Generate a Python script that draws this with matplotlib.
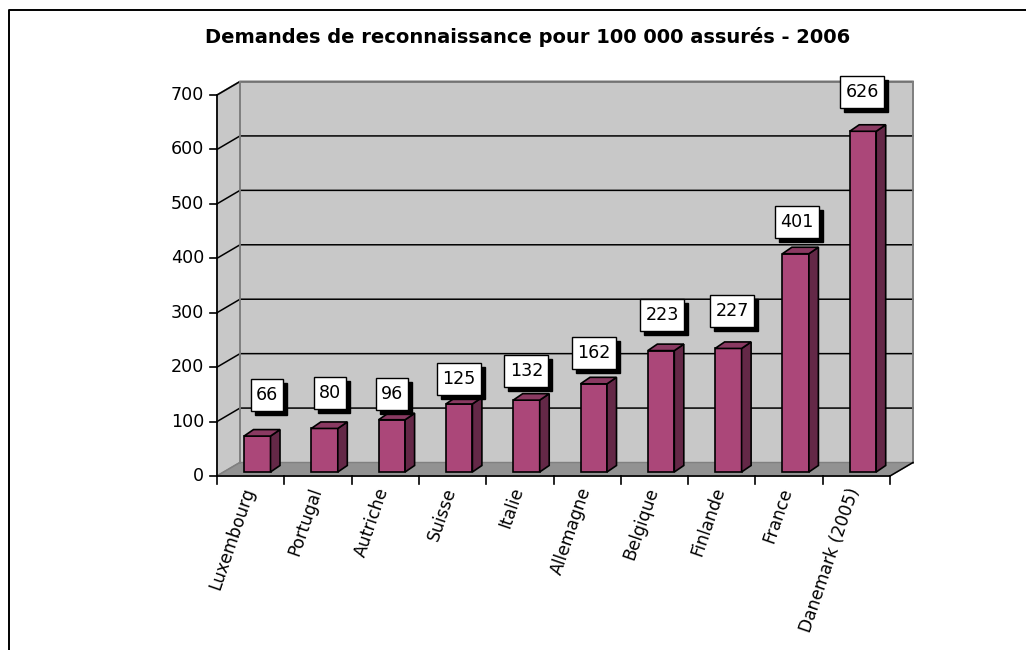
import numpy as np
import matplotlib
matplotlib.use('Agg')
import matplotlib.pyplot as plt
from matplotlib.lines import Line2D
from matplotlib.patches import Rectangle

plt.rcParams['font.family'] = ['DejaVu Sans']

# donnees
pays = ['Luxembourg', 'Portugal', 'Autriche', 'Suisse', 'Italie', 'Allemagne',
        'Belgique', 'Finlande', 'France', 'Danemark (2005)']
valeurs = [66, 80, 96, 125, 132, 162, 223, 227, 401, 626]
yticks = [0, 100, 200, 300, 400, 500, 600, 700]
titre = 'Demandes de reconnaissance pour 100 000 assurés - 2006'

# decalage des etiquettes par rapport au haut de la barre (pixels)
label_dx = [10, 5, 0, 0, 0, 0, 1, 4, 1, -1]
label_dy = [41, 35, 26, 25, 29, 31, 36, 37, 32, 39]

W, H = 1026, 650
fig = plt.figure(figsize=(W / 100, H / 100), dpi=100)
ax = fig.add_axes([217 / W, 1 - 476 / H, (890 - 217) / W, (476 - 95) / H])
ax.set_xlim(0, len(pays))
ax.set_ylim(0, 700)
ax.axis('off')

# pixels -> unites de donnees
ux = len(pays) / (890 - 217)
uy = 700 / (476 - 95)
dx, dy = 23 * ux, 13.5 * uy
n = len(pays)

# fond gris, cote gauche et sol
grey = '#c8c8c8'
edge = '#808080'
ax.fill([dx, n + dx, n + dx, dx], [dy, dy, 700 + dy, 700 + dy], fc=grey, ec=edge, lw=1.3, clip_on=False, zorder=1)
ax.fill([0, dx, dx, 0], [0, dy, 700 + dy, 700], fc=grey, ec=edge, lw=1.3, clip_on=False, zorder=1)
ax.fill([0, dx, n + dx, n], [0, dy, dy, 0], fc='#929292', ec='#808080', lw=1, clip_on=False, zorder=2)

# grille
for t in yticks[1:]:
    ax.plot([0, dx, n + dx], [t, t + dy, t + dy], color='black', lw=1.1, clip_on=False, zorder=2,
            solid_joinstyle='miter')
ax.plot([dx, dx], [dy, 700 + dy], color=edge, lw=1.3, clip_on=False, zorder=2)
ax.plot([n + dx, n + dx], [dy, 700 + dy], color=edge, lw=1.3, clip_on=False, zorder=2)
ax.plot([dx, n + dx], [700 + dy, 700 + dy], color=edge, lw=1.3, clip_on=False, zorder=2)

# axes
ax.plot([0, 0], [0, 700], color='black', lw=1.2, clip_on=False, zorder=3)
ax.plot([0, n], [0, 0], color='black', lw=1.2, clip_on=False, zorder=3)
ax.plot([n, n + dx], [0, dy], color='black', lw=1.1, clip_on=False, zorder=3)
for t in yticks:
    ax.plot([-7 * ux, 0], [t, t], color='black', lw=1.2, clip_on=False, zorder=3)
    ax.text(-12.5 * ux, t, str(t), ha='right', va='center', fontsize=12.6, color='black')
for i in range(n + 1):
    ax.plot([i, i], [0, -8 * uy], color='black', lw=1.2, clip_on=False, zorder=3)

# barres 3d
bar_w = 26.5 * ux
off_x, off_y = 27 * ux, 4 * uy
bdx, bdy = 9.5 * ux, 6.5 * uy
for i, v in enumerate(valeurs):
    x0 = i + off_x
    x1 = x0 + bar_w
    y0 = off_y
    y1 = y0 + v
    kw = dict(ec='black', lw=1.2, clip_on=False, zorder=4, joinstyle='miter')
    ax.fill([x0, x1, x1, x0], [y0, y0, y1, y1], fc='#ab4779', **kw)
    ax.fill([x1, x1 + bdx, x1 + bdx, x1], [y0, y0 + bdy, y1 + bdy, y1], fc='#642847', **kw)
    ax.fill([x0, x1, x1 + bdx, x0 + bdx], [y1, y1, y1 + bdy, y1 + bdy], fc='#8a3a62', **kw)

    # etiquette + ombre
    xc = (x0 + x1) / 2 + label_dx[i] * ux
    yc = y1 + label_dy[i] * uy
    bw = (12 * len(str(v)) + 8) * ux
    bh = 32 * uy
    ax.add_patch(Rectangle((xc - bw / 2 + 4 * ux, yc - bh / 2 - 4 * uy), bw, bh, fc='black', ec='black',
                           lw=1, clip_on=False, zorder=5))
    ax.add_patch(Rectangle((xc - bw / 2, yc - bh / 2), bw, bh, fc='white', ec='black',
                           lw=1, clip_on=False, zorder=6))
    ax.text(xc, yc, str(v), ha='center', va='center', fontsize=12.6, color='black', zorder=7)

# etiquettes x
for i, nom in enumerate(pays):
    ax.text(i + 0.48, -12 * uy, nom, rotation=71, rotation_mode='anchor', ha='right', va='center',
            fontsize=12.3, color='black', clip_on=False)

fig.text(528 / W, 1 - 37 / H, titre, ha='center', va='center', fontsize=14, fontweight='bold', color='black')

# cadre
fig.add_artist(Line2D([9 / W, 9 / W, 1], [0, 1 - 9.5 / H, 1 - 9.5 / H], color='black', lw=1.4))

fig.savefig('out.png', dpi=100)
